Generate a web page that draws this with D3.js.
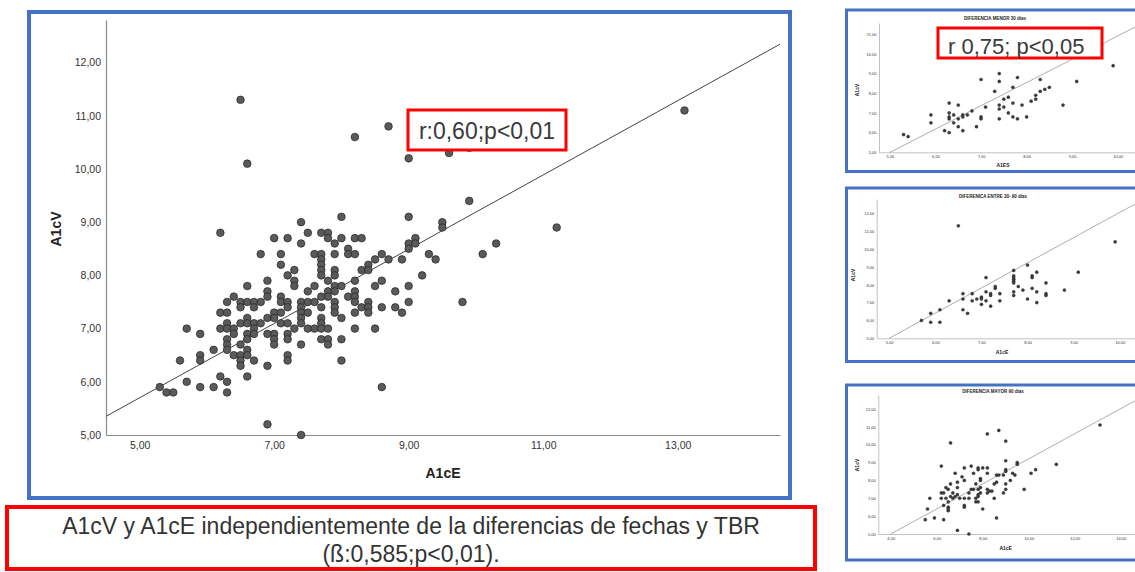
<!DOCTYPE html>
<html>
<head>
<meta charset="utf-8">
<script src="https://cdn.jsdelivr.net/npm/d3@7"></script>
<style>
body { margin: 0; background: #fff; }
svg { display: block; font-family: "Liberation Sans", Arial, sans-serif; }
</style>
</head>
<body>
<div id="chart"></div>
<script>
// ---------------- data ----------------
// main plot: one line per A1cE column
let mainA1cE = [
  5.3,
  5.4,
  5.5,
  5.6,
  5.7, 5.7,
  5.9, 5.9, 5.9, 5.9,
  6.1, 6.1,
  6.2, 6.2, 6.2, 6.2,
  6.3, 6.3, 6.3, 6.3, 6.3, 6.3, 6.3, 6.3, 6.3,
  6.4, 6.4, 6.4, 6.4,
  6.5, 6.5, 6.5, 6.5, 6.5, 6.5, 6.5, 6.5,
  6.6, 6.6, 6.6, 6.6, 6.6, 6.6, 6.6, 6.6, 6.6, 6.6,
  6.7, 6.7, 6.7, 6.7, 6.7, 6.7,
  6.8, 6.8, 6.8,
  6.9, 6.9, 6.9, 6.9, 6.9, 6.9, 6.9,
  7.0, 7.0, 7.0, 7.0, 7.0, 7.0,
  7.1, 7.1, 7.1, 7.1, 7.1, 7.1,
  7.2, 7.2, 7.2, 7.2, 7.2, 7.2, 7.2, 7.2, 7.2,
  7.3, 7.3, 7.3, 7.3,
  7.4, 7.4, 7.4, 7.4, 7.4, 7.4, 7.4, 7.4, 7.4,
  7.5, 7.5, 7.5, 7.5, 7.5,
  7.6, 7.6, 7.6, 7.6,
  7.7, 7.7, 7.7, 7.7, 7.7, 7.7, 7.7, 7.7, 7.7, 7.7, 7.7, 7.7,
  7.8, 7.8, 7.8, 7.8, 7.8, 7.8, 7.8, 7.8,
  7.9, 7.9, 7.9, 7.9, 7.9, 7.9, 7.9, 7.9, 7.9,
  8.0, 8.0, 8.0, 8.0, 8.0, 8.0,
  8.1, 8.1, 8.1,
  8.2, 8.2, 8.2, 8.2, 8.2, 8.2, 8.2, 8.2, 8.2,
  8.3, 8.3, 8.3,
  8.4, 8.4, 8.4, 8.4, 8.4,
  8.5, 8.5, 8.5,
  8.6, 8.6, 8.6, 8.6,
  8.7, 8.7,
  8.8, 8.8,
  8.9, 8.9,
  9.0, 9.0, 9.0, 9.0, 9.0, 9.0,
  9.1, 9.1,
  9.2, 9.3, 9.4, 9.5, 9.5, 9.6, 9.8, 9.9, 9.9, 10.1, 10.3, 11.2, 13.1
];
let mainA1cV = [
  5.9,
  5.8,
  5.8,
  6.4,
  7.0, 6.0,
  6.9, 6.5, 6.4, 5.9,
  6.6, 5.9,
  8.8, 7.3, 7.0, 6.1,
  7.5, 7.3, 7.1, 7.0, 6.8, 6.7, 6.6, 6.0, 5.8,
  7.6, 7.0, 6.9, 6.5,
  11.3, 7.5, 7.4, 7.1, 6.7, 6.5, 6.4, 6.3,
  10.1, 7.8, 7.5, 7.2, 7.1, 6.9, 6.8, 6.6, 6.5, 6.1,
  7.5, 7.4, 7.1, 7.0, 6.9, 6.4,
  8.4, 7.5, 7.1,
  7.9, 7.7, 7.6, 7.2, 6.9, 6.3, 5.2,
  8.7, 7.3, 7.2, 6.9, 6.8, 6.7,
  8.4, 8.2, 7.6, 7.5, 7.3, 7.1,
  8.7, 8.0, 7.5, 7.4, 7.1, 6.9, 6.8, 6.5, 6.4,
  8.1, 7.9, 7.8, 7.0,
  9.0, 8.6, 7.5, 7.4, 7.3, 7.2, 7.1, 6.7, 5.0,
  8.8, 7.7, 7.5, 7.3, 7.0,
  8.4, 7.8, 7.5, 7.0,
  8.8, 8.4, 8.3, 8.2, 8.1, 8.0, 7.6, 7.4, 7.2, 7.1, 7.0, 6.8,
  8.8, 8.7, 7.9, 7.7, 7.6, 7.0, 6.8, 6.7,
  8.6, 8.4, 8.1, 8.0, 7.8, 7.7, 7.5, 7.4, 7.3,
  9.1, 8.7, 7.8, 7.2, 6.8, 6.4,
  8.5, 8.4, 7.6,
  10.6, 8.7, 8.4, 7.9, 7.7, 7.6, 7.5, 7.3, 7.0,
  8.7, 8.1, 7.4,
  8.2, 8.1, 7.5, 7.4, 7.3,
  8.3, 7.8, 7.0,
  8.4, 7.9, 7.4, 5.9,
  10.8, 8.3,
  7.7, 7.4,
  8.3, 7.3,
  10.2, 9.1, 8.6, 8.5, 7.8, 7.5,
  8.7, 8.6,
  8.0, 8.4, 8.3, 9.0, 8.9, 10.3, 7.5, 10.4, 9.4, 8.4, 8.6, 8.9, 11.1
];
let mainTicksX = [5, 7, 9, 11, 13];
let mainTicksY = [5, 6, 7, 8, 9, 10, 11, 12];
let mainFit = [2.21, 0.698]; // intercept, slope of the drawn line

// small panel 1: difference < 30 days
let p1A1cE = [
  5.3, 5.4, 5.9, 5.9, 6.2,
  6.3, 6.3, 6.3, 6.3, 6.3,
  6.4, 6.4, 6.5, 6.5, 6.5, 6.6, 6.6, 6.6, 6.7, 6.8, 6.9,
  7.0, 7.0, 7.0, 7.1, 7.3,
  7.4, 7.4, 7.4, 7.4, 7.4,
  7.5, 7.5, 7.6, 7.6, 7.7, 7.7, 7.7, 7.8, 7.8, 7.9, 8.0, 8.1,
  8.2, 8.2, 8.3, 8.3, 8.4, 8.5, 8.8, 9.1, 9.9
];
let p1A1cV = [
  5.9, 5.8, 6.9, 6.5, 6.1,
  7.5, 7.0, 6.8, 6.7, 6.0,
  6.9, 6.5, 7.4, 6.7, 6.3, 6.9, 6.8, 6.1, 6.9, 7.1, 6.3,
  8.7, 6.8, 6.7, 7.3, 8.1,
  9.0, 8.6, 7.4, 7.2, 6.7,
  7.7, 7.3, 7.8, 7.0, 8.3, 7.5, 6.8, 8.8, 6.7, 7.4, 6.8, 7.6,
  7.9, 7.7, 8.7, 8.1, 8.2, 8.3, 7.4, 8.6, 9.4
];
let p1TicksX = [5, 6, 7, 8, 9, 10];
let p1TicksY = [5, 6, 7, 8, 9, 10, 11];
let p1Fit = [-0.91, 1.182];

// small panel 2: difference 30-90 days
let p2A1cE = [
  5.7, 5.9, 5.9, 6.1, 6.1, 6.3, 6.5,
  6.6, 6.6, 6.6, 6.7, 6.8, 6.8, 6.9,
  7.0, 7.0, 7.0, 7.1, 7.1, 7.1, 7.2, 7.2, 7.2, 7.3, 7.3, 7.4, 7.4,
  7.7, 7.7, 7.7, 7.7, 7.7, 7.7, 7.7, 7.7,
  7.8, 7.9, 8.0, 8.0, 8.1, 8.1, 8.1, 8.2, 8.2, 8.2,
  8.4, 8.4, 8.4, 8.8, 9.1, 9.9
];
let p2A1cV = [
  6.0, 6.4, 5.9, 6.6, 5.9, 7.1, 11.3,
  7.5, 7.2, 6.6, 6.4, 7.5, 7.1, 7.2,
  7.3, 7.2, 6.9, 8.4, 7.6, 7.1, 7.5, 7.4, 6.8, 7.9, 7.8, 7.5, 7.1,
  8.8, 8.5, 8.4, 8.3, 8.2, 8.1, 7.6, 7.4,
  7.9, 7.7, 9.1, 7.2, 8.5, 8.4, 7.8, 8.7, 7.6, 7.0,
  8.1, 7.5, 7.4, 7.7, 8.7, 10.4
];
let p2TicksX = [5, 6, 7, 8, 9, 10];
let p2TicksY = [5, 6, 7, 8, 9, 10, 11, 12];
let p2Fit = [-2.05, 1.41];

// small panel 3: difference > 90 days
let p3A1cE = [
  5.5, 5.6, 5.7, 5.9,
  6.2, 6.2, 6.2, 6.3, 6.3, 6.3, 6.4, 6.4,
  6.5, 6.5, 6.5, 6.5, 6.5, 6.6, 6.6, 6.6, 6.7, 6.7, 6.8, 6.8,
  6.9, 6.9, 6.9, 6.9, 7.0, 7.1,
  7.2, 7.2, 7.2, 7.2, 7.2, 7.4, 7.4, 7.4,
  7.5, 7.5, 7.6, 7.6, 7.7, 7.7, 7.7,
  7.8, 7.8, 7.8, 7.8, 7.8, 7.8, 7.9, 7.9, 7.9, 7.9, 8.0, 8.0,
  8.2, 8.2, 8.2, 8.2, 8.2, 8.3, 8.4, 8.5, 8.5, 8.6, 8.6, 8.6,
  8.7, 8.7, 8.9, 8.9, 9.0, 9.0, 9.0, 9.0, 9.0, 9.0,
  9.2, 9.3, 9.4, 9.5, 9.5, 9.8, 10.1, 10.3, 11.2, 13.1
];
let p3A1cV = [
  5.8, 6.4, 7.0, 5.9,
  8.8, 7.3, 7.0, 7.3, 6.6, 5.8, 7.6, 7.0,
  7.5, 6.8, 6.5, 6.4, 6.3, 10.1, 7.8, 7.1, 7.3, 7.0, 8.4, 7.1,
  7.9, 7.6, 7.2, 5.2, 7.0, 8.2,
  8.7, 8.0, 7.0, 6.6, 6.5, 7.3, 7.0, 5.0,
  8.8, 7.5, 8.4, 7.5, 7.8, 7.0, 6.8,
  8.7, 8.6, 7.5, 7.2, 7.1, 6.8, 8.1, 8.0, 7.6, 7.3, 8.7, 6.4,
  10.6, 8.7, 8.4, 7.5, 7.3, 7.4, 7.4, 7.8, 7.0, 8.3, 7.9, 5.9,
  10.8, 8.3, 8.3, 7.3, 10.2, 9.1, 8.6, 8.5, 7.8, 7.5,
  8.0, 8.4, 8.3, 9.0, 8.9, 7.5, 8.4, 8.6, 8.9, 11.1
];
let p3TicksX = [4, 6, 8, 10, 12, 14];
let p3TicksY = [5, 6, 7, 8, 9, 10, 11, 12];
let p3Fit = [2.19, 0.702];

// ---------------- drawing ----------------
let width = 1135, height = 572;
let fmt = d => d3.format(".2f")(d).replace(".", ",");

let svg = d3.select("#chart").append("svg")
  .attr("width", width)
  .attr("height", height);

// blue frames round the plots
let blue = "#4472c4";
svg.append("rect").attr("x", 29).attr("y", 12).attr("width", 761).attr("height", 486)
  .attr("fill", "#fff").attr("stroke", blue).attr("stroke-width", 4);
[[10, 161.5], [188, 173.5], [385, 175]].forEach(function (f) {
  svg.append("rect").attr("x", 846.5).attr("y", f[0]).attr("width", 300).attr("height", f[1])
    .attr("fill", "#fff").attr("stroke", blue).attr("stroke-width", 3);
});

function drawPanel(c) {
  let g = svg.append("g");
  let x = d3.scaleLinear().domain(c.xDomain).range(c.xRange);
  let y = d3.scaleLinear().domain(c.yDomain).range(c.yRange);

  let xAxis = g.append("g").attr("transform", `translate(0,${c.yRange[0]})`)
    .call(d3.axisBottom(x).tickValues(c.xTicks).tickSize(0).tickPadding(c.padX).tickFormat(fmt));
  let yAxis = g.append("g").attr("transform", `translate(${c.xRange[0]},0)`)
    .call(d3.axisLeft(y).tickValues(c.yTicks).tickSize(0).tickPadding(c.padY).tickFormat(fmt));
  [xAxis, yAxis].forEach(function (a) {
    a.attr("font-family", null).attr("font-size", c.tickFont);
    a.select(".domain").attr("stroke", c.axisColor).attr("stroke-width", c.axisWidth);
    a.selectAll("text").attr("fill", "#333");
  });

  // fitted line, cut to the plot area
  let b = c.fit[0], m = c.fit[1];
  let x0 = Math.max(c.xDomain[0], (c.yDomain[0] - b) / m);
  let x1 = Math.min(c.xDomain[1], (c.yDomain[1] - b) / m);
  g.append("line")
    .attr("x1", x(x0)).attr("y1", y(b + m * x0))
    .attr("x2", x(x1)).attr("y2", y(b + m * x1))
    .attr("stroke", c.lineColor).attr("stroke-width", c.lineWidth);

  // points
  let pts = c.xs.map((v, i) => [v, c.ys[i]]);
  g.selectAll("circle").data(pts).enter().append("circle")
    .attr("cx", d => x(d[0]))
    .attr("cy", d => y(d[1]))
    .attr("r", c.r)
    .attr("fill", c.dotFill)
    .attr("stroke", c.dotStroke)
    .attr("stroke-width", c.dotStrokeWidth);

  // axis titles
  g.append("text").attr("x", c.xLabelPos[0]).attr("y", c.xLabelPos[1])
    .attr("text-anchor", "middle").attr("font-weight", "bold").attr("font-size", c.labelFont)
    .attr("fill", "#222").text(c.xLabel);
  g.append("text").attr("transform", `translate(${c.yLabelPos[0]},${c.yLabelPos[1]}) rotate(-90)`)
    .attr("text-anchor", "middle").attr("font-weight", "bold").attr("font-size", c.labelFont)
    .attr("fill", "#222").text(c.yLabel);
  if (c.title) {
    g.append("text").attr("x", c.titlePos[0]).attr("y", c.titlePos[1])
      .attr("text-anchor", "middle").attr("font-weight", "bold").attr("font-size", c.titleFont)
      .attr("fill", "#222").text(c.title);
  }
}

// main plot
drawPanel({
  xs: mainA1cE, ys: mainA1cV, xTicks: mainTicksX, yTicks: mainTicksY, fit: mainFit,
  xDomain: [4.5, 14.52], xRange: [106, 780],
  yDomain: [5, 12.8], yRange: [435, 20],
  padX: 7, padY: 5, tickFont: 10.5, axisColor: "#8a8a8a", axisWidth: 1.2,
  lineColor: "#444", lineWidth: 1,
  r: 3.8, dotFill: "#5a5a5a", dotStroke: "#222", dotStrokeWidth: 0.7,
  xLabel: "A1cE", xLabelPos: [443, 478], yLabel: "A1cV", yLabelPos: [61, 229], labelFont: 14
});

// small panels
let small = {
  padX: 3, padY: 2.5, tickFont: 4, axisColor: "#999", axisWidth: 0.6,
  lineColor: "#777", lineWidth: 0.6,
  r: 1.6, dotFill: "#3c3c3c", dotStroke: "#222", dotStrokeWidth: 0.3,
  labelFont: 5, titleFont: 4.5
};
drawPanel(Object.assign({}, small, {
  xs: p1A1cE, ys: p1A1cV, xTicks: p1TicksX, yTicks: p1TicksY, fit: p1Fit,
  xDomain: [4.76, 10.38], xRange: [879, 1135],
  yDomain: [5, 11.57], yRange: [152.3, 23],
  xLabel: "A1ES", xLabelPos: [1003, 167], yLabel: "A1cV", yLabelPos: [859, 90],
  title: "DIFERENCIA MENOR 30 días", titlePos: [995, 20]
}));
drawPanel(Object.assign({}, small, {
  xs: p2A1cE, ys: p2A1cV, xTicks: p2TicksX, yTicks: p2TicksY, fit: p2Fit,
  xDomain: [4.73, 10.33], xRange: [876.7, 1135],
  yDomain: [5, 12.8], yRange: [338.3, 199],
  xLabel: "A1cE", xLabelPos: [1002, 353.5], yLabel: "A1cV", yLabelPos: [855, 275],
  title: "DIFERENICA ENTRE 30- 90 días", titlePos: [993, 198]
}));
drawPanel(Object.assign({}, small, {
  xs: p3A1cE, ys: p3A1cV, xTicks: p3TicksX, yTicks: p3TicksY, fit: p3Fit,
  xDomain: [3.46, 14.62], xRange: [878.3, 1135],
  yDomain: [5, 12.78], yRange: [534, 395],
  xLabel: "A1cE", xLabelPos: [1005.7, 549.5], yLabel: "A1cV", yLabelPos: [858.5, 465],
  title: "DIFERENCIA MAYOR 90 días", titlePos: [993, 393]
}));

// red call-out boxes
function callout(x, y, w, h, sw) {
  svg.append("rect").attr("x", x).attr("y", y).attr("width", w).attr("height", h)
    .attr("fill", "#fff").attr("stroke", "#ff0000").attr("stroke-width", sw);
}
callout(408, 110, 158, 40, 3);
svg.append("text").attr("x", 487).attr("y", 138.5).attr("text-anchor", "middle")
  .attr("font-size", 23).attr("fill", "#3a3a3a").text("r:0,60;p<0,01");

callout(938, 28, 164, 30, 3);
svg.append("text").attr("x", 948).attr("y", 54.3)
  .attr("font-size", 22).attr("fill", "#3a3a3a").text("r 0,75; p<0,05");

callout(7, 507, 808, 62, 4);
svg.append("text").attr("x", 411).attr("y", 533.5).attr("text-anchor", "middle")
  .attr("font-size", 23).attr("fill", "#333")
  .text("A1cV y A1cE independientemente de la diferencias de fechas y TBR");
svg.append("text").attr("x", 411).attr("y", 562).attr("text-anchor", "middle")
  .attr("font-size", 23).attr("fill", "#333")
  .text("(ß:0,585;p<0,01).");
</script>
</body>
</html>
